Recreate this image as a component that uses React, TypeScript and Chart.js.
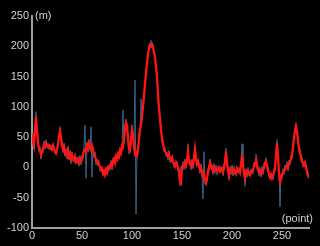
import React, { useEffect, useRef } from 'react';
import { Chart, registerables } from 'chart.js';

Chart.register(...registerables);

// point index 0..277
const smoothValues: number[] = [
  40, 48, 38, 60, 84, 62, 40, 32, 28, 20,
  26, 30, 38, 36, 40, 38, 34, 36, 32, 34,
  30, 36, 30, 28, 24, 30, 38, 52, 60, 50,
  36, 30, 34, 24, 26, 20, 28, 18, 22, 14,
  20, 16, 12, 18, 10, 14, 12, 8, 14, 10,
  12, 22, 28, 30, 26, 36, 32, 40, 34, 30,
  36, 28, 22, 20, 12, 8, 10, 4, 2, -4,
  -2, -10, -6, -12, -4, -8, 0, -2, 4, 6,
  2, 10, 14, 8, 18, 14, 22, 18, 28, 24,
  36, 34, 48, 62, 74, 70, 48, 30, 28, 44,
  62, 56, 34, 22, 24, 20, 30, 48, 62, 70,
  84, 100, 118, 138, 156, 172, 188, 196, 202, 200,
  203, 198, 190, 182, 166, 150, 120, 98, 80, 62,
  48, 38, 32, 26, 24, 20, 18, 22, 14, 12,
  16, 8, 6, 2, 8, 4, 0, -8, -24, -26,
  0, 4, 2, 8, 4, 10, 26, 12, 6, 2,
  8, 4, 14, 30, 16, 6, 10, 2, -4, 0,
  -8, -14, -10, -22, -26, -18, -8, 0, 8, 4,
  -2, -6, 0, -4, -2, -6, -4, 0, -6, -2,
  -4, -8, 0, 10, 26, 8, -6, -14, -4, -6,
  -2, -8, -4, -6, -10, -2, -6, -4, -8, 4,
  16, 6, -10, -18, -8, -10, -6, -8, -12, -6,
  -8, -4, 2, 8, 16, 4, -4, -8, -6, -10,
  -4, -6, 0, 8, 10, 4, -6, -10, -16, -12,
  -18, -14, -8, 0, 20, 40, 18, -10, -24, -18,
  -12, -8, -6, -2, 2, 4, 0, 6, 10, 14,
  20, 34, 50, 60, 68, 60, 44, 32, 24, 18,
  10, 6, 4, 8, 0, -6, -14, -16,
];

const rawValues: number[] = [
  34, 56, 30, 66, 92, 54, 46, 26, 34, 14,
  30, 24, 44, 30, 46, 32, 40, 30, 38, 28,
  36, 30, 36, 22, 28, 24, 44, 46, 66, 44,
  42, 24, 40, 18, 32, 14, 34, 12, 28, 6,
  26, 10, 18, 12, 16, 6, 18, 2, 20, 4,
  18, 16, 34, 70, -18, 42, 26, 46, 28, 67,
  -16, 34, 16, 26, 4, 14, 2, 10, -6, 2,
  -8, -4, -14, -6, -12, 0, -8, 4, -4, 12,
  -4, 16, 8, 14, 10, 20, 14, 26, 20, 30,
  28, 95, 40, 70, 80, 62, 54, 22, 36, 38,
  70, 48, 40, 144, -77, 28, 22, 56, 54, 113,
  78, 108, 112, 144, 150, 178, 184, 202, 196, 210,
  198, 204, 186, 186, 160, 156, 114, 104, 74, 68,
  42, 44, 26, 32, 18, 26, 12, 28, 8, 18,
  10, 14, 0, 8, 2, 10, -6, -2, -30, 2,
  -8, 10, -4, 14, -2, 16, 38, 6, 12, -4,
  14, -2, 20, 36, 10, 12, 4, 8, -10, 6,
  -14, -52, 26, -28, -20, -24, -2, -6, 14, -2,
  4, -12, 6, -10, 4, -12, 2, -6, 0, -8,
  2, -14, 6, 4, 32, 2, 0, -20, 2, -12,
  4, -14, 2, -12, -4, -8, 0, -10, -2, 10,
  39, 0, -4, -31, -2, -16, 0, -14, -6, -12,
  -2, -10, 8, 2, 22, -2, 2, -14, 0, -16,
  2, -12, 6, 2, 16, -2, 0, -16, -10, -18,
  -12, -20, -2, -6, 26, 46, 12, -4, -65, -12,
  -18, -2, -12, 4, -4, 10, -6, 12, 4, 20,
  14, 40, 44, 66, 72, 54, 50, 26, 30, 12,
  16, 0, 10, 2, 6, -12, -8, -20,
];

const xTicks = [0, 50, 100, 150, 200, 250];
const yTicks = [-100, -50, 0, 50, 100, 150, 200, 250];
const yUnit = '(m)';
const xUnit = '(point)';

const FONT = '"Liberation Sans", Arial, Helvetica, sans-serif';
const LABEL_COLOR = '#d0d0d0';
const AXIS_COLOR = '#a0a0a0';

export default function App() {
  const ref = useRef<HTMLCanvasElement>(null);

  useEffect(() => {
    document.body.style.margin = '0';
    document.body.style.background = '#000';
    const canvas = ref.current;
    if (!canvas) return;

    const bgPlugin = {
      id: 'bg',
      beforeDraw(chart: any) {
        const { ctx, width, height } = chart;
        ctx.save();
        ctx.fillStyle = '#000';
        ctx.fillRect(0, 0, width, height);
        ctx.restore();
      },
    };

    const unitPlugin = {
      id: 'units',
      afterDraw(chart: any) {
        const { ctx, chartArea, scales } = chart;
        ctx.save();
        ctx.fillStyle = LABEL_COLOR;
        ctx.font = `11px ${FONT}`;
        ctx.textBaseline = 'middle';
        ctx.textAlign = 'left';
        ctx.fillText(yUnit, chartArea.left + 3, scales.y.getPixelForValue(250));
        ctx.textAlign = 'right';
        ctx.fillText(xUnit, chartArea.right + 4, chartArea.bottom - 9);
        ctx.restore();
      },
    };

    const chart = new Chart(canvas, {
      type: 'line',
      data: {
        datasets: [
          {
            data: smoothValues.map((v, i) => ({ x: i, y: v })),
            borderColor: '#ff1414',
            borderWidth: 2.3,
            pointRadius: 0,
            tension: 0,
            order: 0,
          },
          {
            data: rawValues.map((v, i) => ({ x: i, y: v })),
            borderColor: '#3a6588',
            borderWidth: 1,
            pointRadius: 0,
            tension: 0,
            order: 1,
          },
        ],
      },
      options: {
        animation: false,
        responsive: false,
        layout: { padding: { top: 16, right: 11, left: 0, bottom: 0 } },
        plugins: { legend: { display: false }, tooltip: { enabled: false } },
        scales: {
          x: {
            type: 'linear',
            min: 0,
            max: 277,
            afterBuildTicks: (s: any) => {
              s.ticks = xTicks.map((v) => ({ value: v }));
            },
            afterFit: (s: any) => {
              s.height = 18;
            },
            grid: { display: false, drawTicks: false },
            border: { display: true, color: AXIS_COLOR, width: 2 },
            ticks: {
              color: LABEL_COLOR,
              font: { size: 11, family: FONT },
              padding: 1,
              maxRotation: 0,
              autoSkip: false,
            },
          },
          y: {
            type: 'linear',
            min: -100,
            max: 250,
            afterBuildTicks: (s: any) => {
              s.ticks = yTicks.map((v) => ({ value: v }));
            },
            afterFit: (s: any) => {
              s.width = 32;
            },
            grid: { display: false, drawTicks: false },
            border: { display: true, color: AXIS_COLOR, width: 2 },
            ticks: {
              color: LABEL_COLOR,
              font: { size: 11, family: FONT },
              padding: 3,
              autoSkip: false,
            },
          },
        },
      },
      plugins: [bgPlugin, unitPlugin],
    });

    return () => chart.destroy();
  }, []);

  return (
    <div style={{ width: 320, height: 246, background: '#000' }}>
      <canvas ref={ref} width={320} height={246} style={{ display: 'block' }} />
    </div>
  );
}
